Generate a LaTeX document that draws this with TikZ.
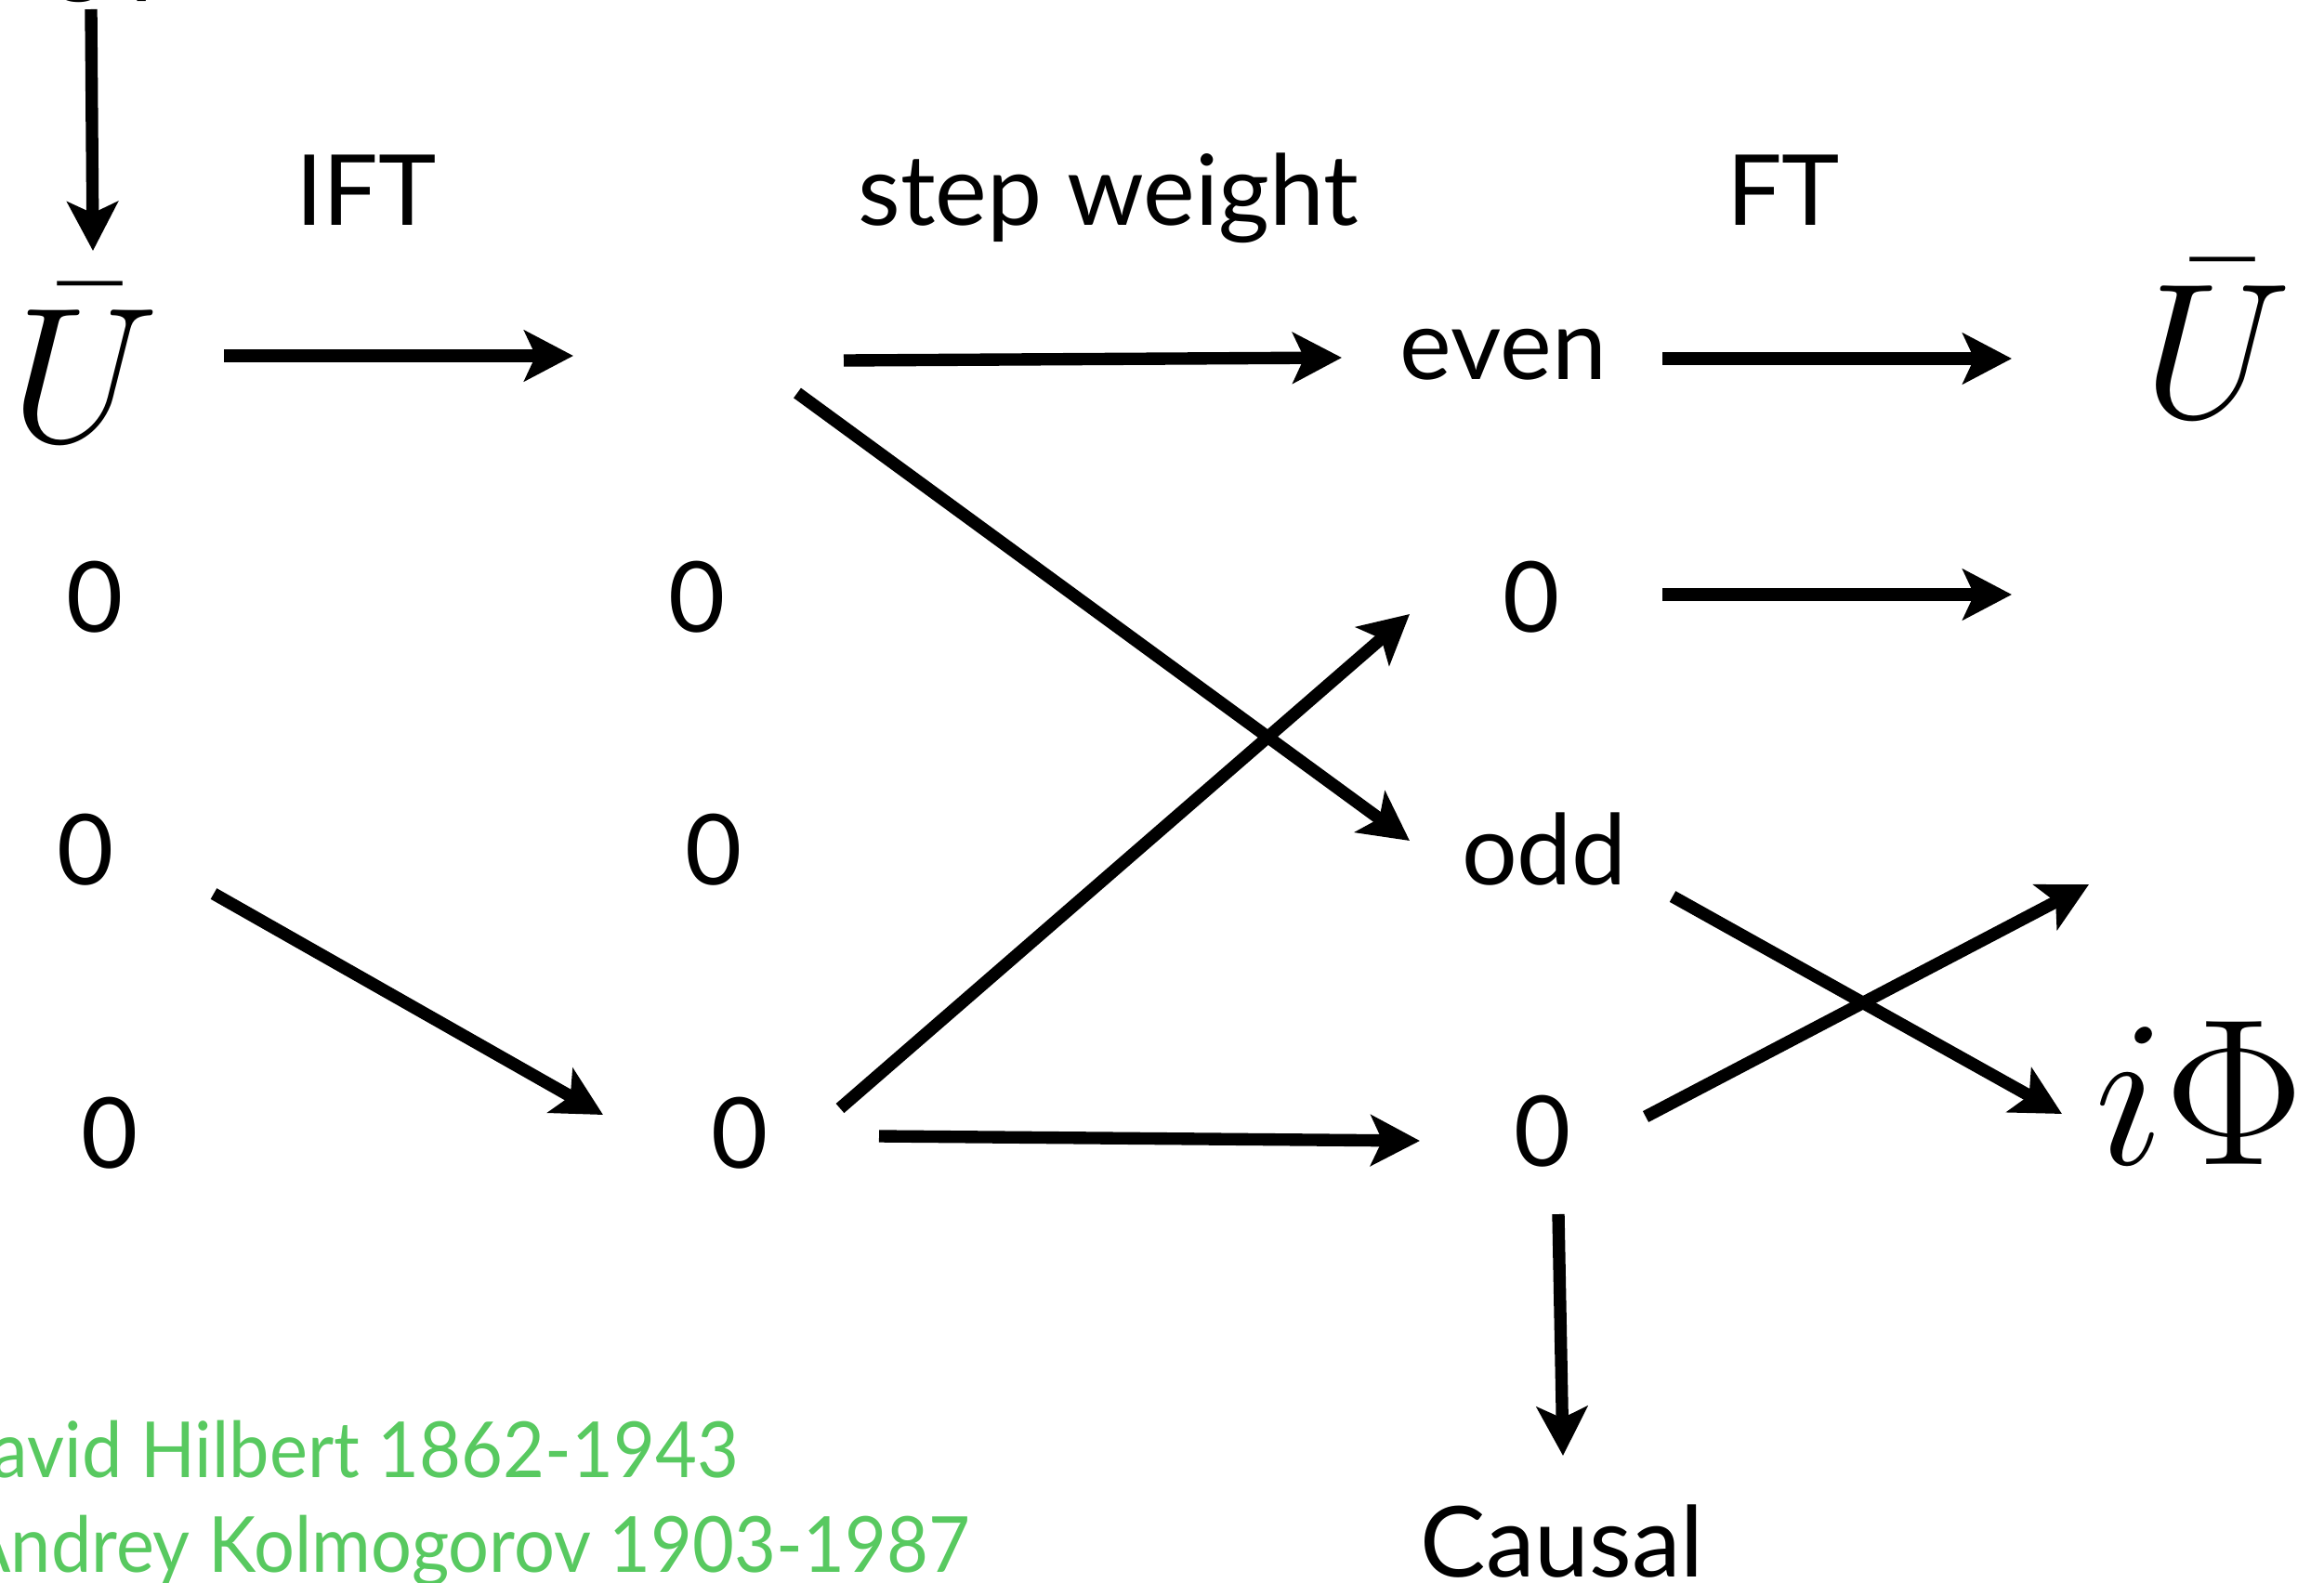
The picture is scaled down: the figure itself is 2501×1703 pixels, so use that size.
\documentclass[tikz,border=0pt]{standalone}
\usepackage{fix-cm}
\usepackage{fontspec}
\setmainfont{Lato}
\newfontfamily\namefont[FakeStretch=0.93]{Lato}
\usetikzlibrary{arrows.meta}
\definecolor{namegreen}{RGB}{88,201,96}
\begin{document}
\begin{tikzpicture}[x=0.01cm,y=-0.01cm,
  lbl/.style={font=\fontsize{30}{36}\selectfont, inner sep=0pt, anchor=base},
  mathlbl/.style={inner sep=0pt, anchor=base},
  who/.style={font=\namefont\fontsize{23.7}{28}\selectfont, text=namegreen, inner sep=0pt, anchor=base east},
  flow/.style={line width=3.8pt, -{Stealth[length=15pt,width=15.5pt,inset=3.5pt]}}]
\useasboundingbox (0,0) rectangle (2501,1703);

% heading running off the top edge
\node[lbl, anchor=base west] (head) at (-52,-16) {Log power};

% operation labels
\node[lbl] (ift)  at (394,242)  {IFT};
\node[lbl] (step) at (1193,242) {step weight};
\node[lbl] (ft)   at (1919,242) {FT};

% spectra
\node[mathlbl] (uin)  at (91,475)   {\fontsize{59}{70}\selectfont $\bar U$};
\node[mathlbl] (uout) at (2386,449) {\fontsize{59}{70}\selectfont $\bar U$};
\node[mathlbl] (phi)  at (2367,1253){\fontsize{64}{76}\selectfont $i\Phi$};

% column entries
\node[lbl] (a1) at (102,680)  {0};
\node[lbl] (a2) at (92,952)   {0};
\node[lbl] (a3) at (118,1257) {0};
\node[lbl] (b1) at (750,680)  {0};
\node[lbl] (b2) at (768,952)  {0};
\node[lbl] (b3) at (796,1257) {0};
\node[lbl] (c0) at (1618,408) {even};
\node[lbl] (c1) at (1648,680) {0};
\node[lbl] (c2) at (1662,952) {odd};
\node[lbl] (c3) at (1660,1255){0};
\node[lbl] (causal) at (1681,1697) {Causal};

% names
\node[who] (hilbert) at (796,1590)  {David Hilbert 1862-1943};
\node[who] (kolmo)   at (1045,1692) {Andrey Kolmogorov 1903-1987};

% arrow end points
\coordinate (inS)   at (98,10);    \coordinate (inE)   at (100,270);
\coordinate (iftS)  at (241,383);  \coordinate (iftE)  at (617,383);
\coordinate (stS)   at (908,388);  \coordinate (stE)   at (1444,385);
\coordinate (ftS)   at (1789,386); \coordinate (ftE)   at (2165,386);
\coordinate (zS)    at (1789,640); \coordinate (zE)    at (2165,640);
\coordinate (dnS)   at (858,423);  \coordinate (dnE)   at (1517,905);
\coordinate (upS)   at (904,1193); \coordinate (upE)   at (1517,661);
\coordinate (lS)    at (230,962);  \coordinate (lE)    at (649,1200);
\coordinate (hS)    at (946,1223); \coordinate (hE)    at (1528,1228);
\coordinate (oddS)  at (1800,965); \coordinate (oddE)  at (2219,1199);
\coordinate (zeroS) at (1771,1202);\coordinate (zeroE) at (2248,952);
\coordinate (cS)    at (1677,1307);\coordinate (cE)    at (1682,1567);

% arrows
\draw[flow] (inS) -- (inE);
\draw[flow] (iftS) -- (iftE);
\draw[flow] (stS) -- (stE);
\draw[flow] (ftS) -- (ftE);
\draw[flow] (zS) -- (zE);
\draw[flow] (dnS) -- (dnE);
\draw[flow] (upS) -- (upE);
\draw[flow] (lS) -- (lE);
\draw[flow] (hS) -- (hE);
\draw[flow] (oddS) -- (oddE);
\draw[flow] (zeroS) -- (zeroE);
\draw[flow] (cS) -- (cE);
\end{tikzpicture}
\end{document}
